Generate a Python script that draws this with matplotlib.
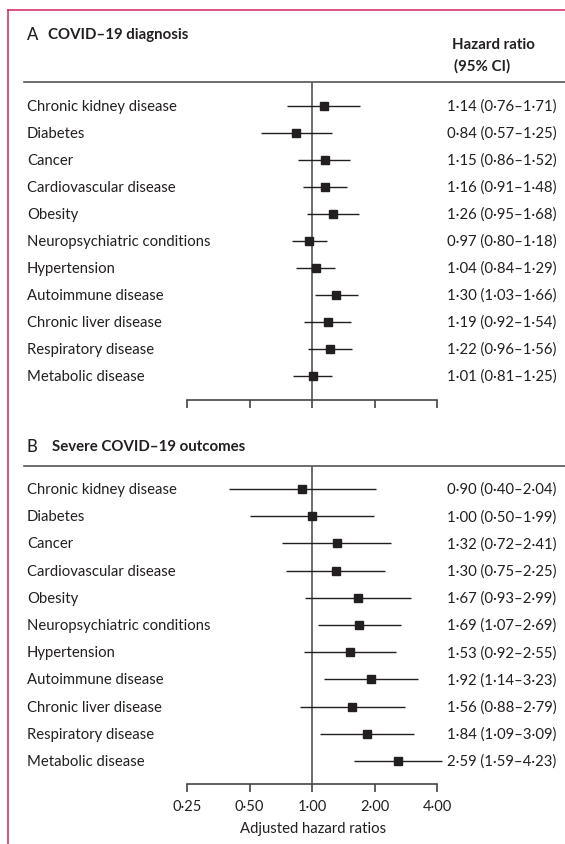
import matplotlib
matplotlib.use("Agg")
import matplotlib.pyplot as plt
from matplotlib.lines import Line2D
import numpy as np

plt.rcParams['font.family'] = ['Lato', 'DejaVu Sans']

conditions = ["Chronic kidney disease", "Diabetes", "Cancer", "Cardiovascular disease",
              "Obesity", "Neuropsychiatric conditions", "Hypertension",
              "Autoimmune disease", "Chronic liver disease", "Respiratory disease",
              "Metabolic disease"]

# panel A: COVID-19 diagnosis
hr_a = [1.14, 0.84, 1.15, 1.16, 1.26, 0.97, 1.04, 1.30, 1.19, 1.22, 1.01]
lo_a = [0.76, 0.57, 0.86, 0.91, 0.95, 0.80, 0.84, 1.03, 0.92, 0.96, 0.81]
hi_a = [1.71, 1.25, 1.52, 1.48, 1.68, 1.18, 1.29, 1.66, 1.54, 1.56, 1.25]

# panel B: severe outcomes
hr_b = [0.90, 1.00, 1.32, 1.30, 1.67, 1.69, 1.53, 1.92, 1.56, 1.84, 2.59]
lo_b = [0.40, 0.50, 0.72, 0.75, 0.93, 1.07, 0.92, 1.14, 0.88, 1.09, 1.59]
hi_b = [2.04, 1.99, 2.41, 2.25, 2.99, 2.69, 2.55, 3.23, 2.79, 3.09, 4.23]

ticks = [0.25, 0.5, 1, 2, 4]
tick_labels = ["0·25", "0·50", "1·00", "2·00", "4·00"]

W, H = 565, 845
ink = '#231f20'
frame = '#d2245a'
fs = 10.7

fig = plt.figure(figsize=(W / 100, H / 100), dpi=100)

def fx(px):
    return px / W

def fy(py):
    return 1 - py / H

# frame on top and left
fig.add_artist(Line2D([fx(8), fx(W)], [fy(11), fy(11)], color=frame, lw=1.1))
fig.add_artist(Line2D([fx(8), fx(8)], [fy(11), fy(H)], color=frame, lw=1.1))

def panel(top, bottom, row0, step, hr, lo, hi, letter, title, title_y, title_x, show_ticks):
    ax = fig.add_axes([fx(187), fy(bottom), fx(437) - fx(187), fy(top) - fy(bottom)])
    ax.set_xscale('log', base=2)
    ax.set_xlim(0.25, 4)
    y0 = (top - row0) / step
    y1 = (bottom - row0) / step
    ax.set_ylim(y1, y0)
    ys = np.arange(len(hr))
    ax.hlines(ys, lo, hi, color=ink, lw=1.0, clip_on=False, zorder=2)
    ax.plot(hr, ys, 's', color=ink, ms=6, clip_on=False, zorder=3)
    ax.axvline(1, color='#555555', lw=1.2, zorder=1)
    for s in ['top', 'right', 'left']:
        ax.spines[s].set_visible(False)
    ax.spines['bottom'].set_color('#444444')
    ax.spines['bottom'].set_linewidth(1.2)
    ax.set_yticks([])
    ax.set_xticks(ticks)
    ax.minorticks_off()
    ax.tick_params(axis='x', direction='out', length=6, width=1.2, color='#444444',
                   labelsize=10.5, labelcolor=ink, pad=5)
    if show_ticks:
        ax.set_xticklabels(tick_labels)
    else:
        ax.set_xticklabels([])
    # rule under the header
    fig.add_artist(Line2D([fx(24), fx(W)], [fy(top), fy(top)], color='#555555', lw=1.2))
    for i in range(len(hr)):
        yy = fy(row0 + i * step)
        fig.text(fx(27), yy, conditions[i], fontsize=fs, color=ink, va='center')
        s = f"{hr[i]:.2f} ({lo[i]:.2f}–{hi[i]:.2f})".replace('.', '·')
        fig.text(fx(447), yy, s, fontsize=fs, color=ink, va='center')
    fig.text(fx(27), fy(title_y), letter, fontsize=12, fontweight='medium', color=ink, va='center')
    fig.text(fx(title_x), fy(title_y), title, fontsize=10.8, fontweight='bold', color=ink, va='center')
    return ax

panel(83, 401, 107, 27.0, hr_a, lo_a, hi_a, 'A', "COVID–19 diagnosis", 35, 48, False)
fig.text(fx(452), fy(45), "Hazard ratio", fontsize=10.8, fontweight='bold', color=ink, va='center')
fig.text(fx(454), fy(66), "(95% CI)", fontsize=10.8, fontweight='bold', color=ink, va='center')

axb = panel(467, 785, 490, 27.2, hr_b, lo_b, hi_b, 'B', "Severe COVID–19 outcomes", 447, 52, True)
fig.text(fx(313), fy(829), "Adjusted hazard ratios", fontsize=fs, color=ink,
         ha='center', va='center')

fig.savefig("out.png", dpi=100)
